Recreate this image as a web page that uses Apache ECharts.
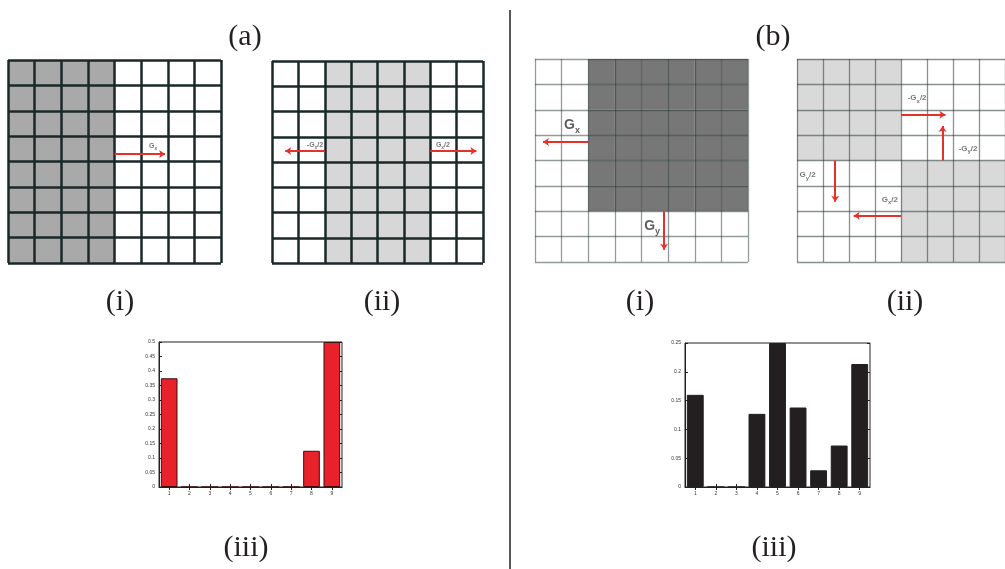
<!DOCTYPE html>
<html><head><meta charset="utf-8">
<script src="https://cdn.jsdelivr.net/npm/echarts@6/dist/echarts.min.js"></script>
<style>html,body{margin:0;padding:0;background:#fff}#c{width:1005px;height:569px}</style>
</head><body><div id="c"></div>
<script>
// ---- data ----
const maskA1 = ['11110000','11110000','11110000','11110000','11110000','11110000','11110000','11110000'];
const maskA2 = ['00111100','00111100','00111100','00111100','00111100','00111100','00111100','00111100'];
const maskB1 = ['00111111','00111111','00111111','00111111','00111111','00111111','00000000','00000000'];
const maskB2 = ['11110000','11110000','11110000','11110000','00001111','00001111','00001111','00001111'];

const arrowsA1 = [[[4,3.7],[5.9,3.7]]];
const arrowsA2 = [[[2,3.56],[0.5,3.56]], [[6,3.56],[7.75,3.56]]];
const arrowsB1 = [[[2,3.27],[0.3,3.27]], [[4.85,6],[4.85,7.52]]];
const arrowsB2 = [[[4,2.2],[5.71,2.2]], [[5.6,4],[5.6,2.64]], [[1.47,4],[1.47,5.63]], [[4,6.18],[2.18,6.18]]];

const labelsA1 = [[5.45,3.39,'G','x','']];
const labelsA2 = [[1.63,3.33,'-G','x','/2'], [6.48,3.33,'G','x','/2']];
const labelsB1 = [[1.39,2.6,'G','x',''], [4.4,6.6,'G','y','']];
const labelsB2 = [[4.62,1.54,'-G','x','/2'], [6.58,3.54,'-G','y','/2'], [0.41,4.57,'G','y','/2'], [3.57,5.55,'G','x','/2']];

const barCats = ['1','2','3','4','5','6','7','8','9'];
const histA = [0.375,0,0,0,0,0,0,0.125,0.5];
const histB = [0.160,0,0,0.127,0.25,0.138,0.029,0.072,0.2135];

const panelLabels = [
  ['(a)',245,37],['(b)',773,37],
  ['(i)',120,302],['(ii)',382,302],['(i)',640,302],['(ii)',905,302],
  ['(iii)',246,548],['(iii)',774,548]
];

// ---- build ----
const chart = echarts.init(document.getElementById('c'));
const RED = '#e8302a';

const panels = [
  {grid:{left:8,top:60,width:213,height:203}, mask:maskA1, fill:'#a9a9a9', line:'#1b2828', lw:2.5, arrows:arrowsA1, labels:labelsA1, fs:7, sfs:5, lc:'#555'},
  {grid:{left:272,top:61,width:211,height:202}, mask:maskA2, fill:'#d7d7d7', line:'#1b2828', lw:2.5, arrows:arrowsA2, labels:labelsA2, fs:7, sfs:5, lc:'#555'},
  {grid:{left:535,top:59,width:213,height:203}, mask:maskB1, fill:'#777777', line:'rgba(40,55,55,0.5)', lw:1.3, arrows:arrowsB1, labels:labelsB1, fs:14, sfs:9, lc:'#333'},
  {grid:{left:797,top:59,width:213,height:203}, mask:maskB2, fill:'#d9d9d9', line:'rgba(40,55,55,0.55)', lw:1.3, arrows:arrowsB2, labels:labelsB2, fs:8, sfs:6, lc:'#555'}
];

const grids=[], xAxes=[], yAxes=[], series=[];
panels.forEach((p,i)=>{
  grids.push(Object.assign({containLabel:false}, p.grid));
  const split = {show:true, lineStyle:{color:p.line, width:p.lw}};
  xAxes.push({gridIndex:i, type:'value', min:0, max:8, interval:1, z:5,
    axisLine:{show:false}, axisTick:{show:false}, axisLabel:{show:false}, splitLine:split});
  yAxes.push({gridIndex:i, type:'value', min:0, max:8, interval:1, inverse:true, z:5,
    axisLine:{show:false}, axisTick:{show:false}, axisLabel:{show:false}, splitLine:split});
  const cells=[];
  p.mask.forEach((row,r)=>{ for(let c=0;c<row.length;c++){ if(row[c]==='1') cells.push([c,r]); } });
  series.push({type:'custom', xAxisIndex:i, yAxisIndex:i, z:1, silent:true, data:cells,
    renderItem:(params,api)=>{
      const a=api.coord([api.value(0),api.value(1)]);
      const b=api.coord([api.value(0)+1,api.value(1)+1]);
      return {type:'rect', shape:{x:Math.min(a[0],b[0]), y:Math.min(a[1],b[1]), width:Math.abs(b[0]-a[0]), height:Math.abs(b[1]-a[1])}, style:{fill:p.fill}};
    }});
  series.push({type:'lines', coordinateSystem:'cartesian2d', xAxisIndex:i, yAxisIndex:i, z:10, silent:true,
    symbol:['none','arrow'], symbolSize:6,
    lineStyle:{color:RED, width:2, opacity:1},
    data:p.arrows.map(c=>({coords:c}))});
  series.push({type:'scatter', xAxisIndex:i, yAxisIndex:i, z:11, silent:true, symbolSize:0,
    data:p.labels,
    label:{show:true, position:'inside',
      formatter:(pr)=>'{g|'+pr.value[2]+'}{s|'+pr.value[3]+'}'+(pr.value[4]?'{g|'+pr.value[4]+'}':''),
      rich:{
        g:{fontSize:p.fs, fontWeight:'bold', color:p.lc, fontFamily:'Liberation Sans', verticalAlign:'bottom'},
        s:{fontSize:p.sfs, fontWeight:'bold', color:p.lc, fontFamily:'Liberation Sans', verticalAlign:'bottom', padding:[0,0,-Math.round(p.sfs*0.35),0]}
      }}});
});

// bar charts
const bars = [
  {grid:{left:159,top:342,width:183,height:145}, data:histA, max:0.5, color:'#e8212a', border:'#3a1010'},
  {grid:{left:685,top:343,width:185,height:144}, data:histB, max:0.25, color:'#231f20', border:'#231f20'}
];
bars.forEach((b,k)=>{
  const gi = grids.length;
  grids.push(Object.assign({show:true, borderColor:'#222', borderWidth:1, backgroundColor:'transparent'}, b.grid));
  const tick = {show:true, inside:true, length:3, alignWithLabel:true, lineStyle:{color:'#222', width:1}};
  const lab = {fontSize:5, color:'#333', margin:4, fontFamily:'Liberation Sans'};
  xAxes.push({gridIndex:gi, type:'category', data:barCats, position:'bottom',
    axisLine:{show:true, lineStyle:{color:'#222', width:1}}, axisTick:tick, axisLabel:lab, splitLine:{show:false}});
  xAxes.push({gridIndex:gi, type:'category', data:barCats, position:'top',
    axisLine:{show:false}, axisTick:tick, axisLabel:{show:false}, splitLine:{show:false}});
  yAxes.push({gridIndex:gi, type:'value', min:0, max:b.max, interval:0.05, position:'left',
    axisLine:{show:true, lineStyle:{color:'#222', width:1}}, axisTick:{show:true, inside:true, length:3, lineStyle:{color:'#222'}},
    axisLabel:lab, splitLine:{show:false}});
  yAxes.push({gridIndex:gi, type:'value', min:0, max:b.max, interval:0.05, position:'right',
    axisLine:{show:false}, axisTick:{show:true, inside:true, length:3, lineStyle:{color:'#222'}},
    axisLabel:{show:false}, splitLine:{show:false}});
  series.push({type:'bar', xAxisIndex:xAxes.length-2, yAxisIndex:yAxes.length-2, data:b.data,
    barCategoryGap:'18%', silent:true,
    itemStyle:{color:b.color, borderColor:b.border, borderWidth:1}});
});

const graphics = panelLabels.map(l=>({type:'text', x:l[1], y:l[2], silent:true,
  style:{text:l[0], fill:'#231f20', font:'30px "Liberation Serif"', textAlign:'center', textVerticalAlign:'middle'}}));
graphics.push({type:'line', silent:true, shape:{x1:510,y1:10,x2:510,y2:569}, style:{stroke:'#222', lineWidth:1.5}});

chart.setOption({animation:false, backgroundColor:'#fff', grid:grids, xAxis:xAxes, yAxis:yAxes, series:series, graphic:graphics});
</script></body></html>
